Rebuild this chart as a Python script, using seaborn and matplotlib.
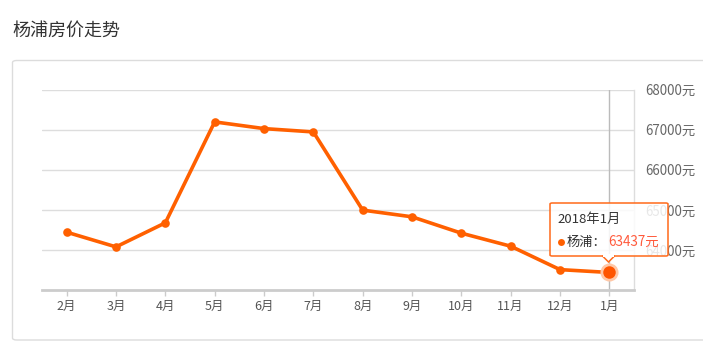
import matplotlib
matplotlib.use("Agg")
import matplotlib.pyplot as plt
import seaborn as sns
import pandas as pd
from matplotlib.patches import FancyBboxPatch, Polygon, Rectangle
from matplotlib.lines import Line2D

sns.set_theme(style="white")
plt.rcParams['font.family'] = ['Noto Sans CJK SC', 'DejaVu Sans']

# ---- data ----
months = ["2月", "3月", "4月", "5月", "6月", "7月", "8月", "9月", "10月", "11月", "12月", "1月"]
prices = [64442, 64075, 64675, 67192, 67025, 66942, 64992, 64825, 64417, 64092, 63508, 63437]
y_ticks = [64000, 65000, 66000, 67000, 68000]
title = "杨浦房价走势"
series_name = "杨浦"
tooltip_title = "2018年1月"

W, H = 703, 350
fig = plt.figure(figsize=(W / 100, H / 100), dpi=100)

def fx(px):
    return px / W

def fy(py):
    return 1 - py / H

# panel border
panel = FancyBboxPatch((fx(12.5), fy(340)), fx(720) - fx(12.5), fy(60.5) - fy(340),
                       boxstyle="round,pad=0,rounding_size=0.006", transform=fig.transFigure,
                       facecolor="white", edgecolor="#dcdcdc", linewidth=1, zorder=-5)
fig.patches.append(panel)

fig.text(fx(12), fy(31), title, fontsize=13, color="#333333", va="center", ha="left")

ax = fig.add_axes([fx(42), fy(290), fx(634) - fx(42), fy(89.5) - fy(290)])
ax.set_facecolor("none")

df = pd.DataFrame({"month": months, "price": prices})
x_pos = list(range(len(months)))
df["x"] = x_pos

ax.set_xlim(-0.5, len(months) - 0.5)
ax.set_ylim(63000, 68000)

# grid
for t in y_ticks:
    ax.axhline(t, color="#dddddd", linewidth=1, zorder=1)

# crosshair
ax.axvline(x_pos[-1], color="#bbbbbb", linewidth=1, zorder=2)

sns.lineplot(data=df, x="x", y="price", ax=ax, color="#ff6000", linewidth=2.6,
             marker="o", markersize=6.2, markeredgewidth=0, zorder=4)

# highlighted last point
ax.plot([x_pos[-1]], [prices[-1]], marker="o", markersize=13, color="#ffc7a6",
        markeredgewidth=0, zorder=5)
ax.plot([x_pos[-1]], [prices[-1]], marker="o", markersize=9, color="#ff5500",
        markeredgewidth=0, zorder=6)

ax.set_xticks(x_pos)
ax.set_xticklabels(months)
ax.set_yticks(y_ticks + [63000])
ax.set_yticklabels([f"{t}元" for t in y_ticks] + [""])
ax.yaxis.tick_right()
ax.tick_params(axis="y", length=0, pad=8, labelsize=9.6, labelcolor="#666666")
ax.tick_params(axis="x", length=4, width=1, color="#cccccc", pad=3, labelsize=9,
               labelcolor="#555555", direction="out", bottom=True)
ax.set_xlabel("")
ax.set_ylabel("")

for s in ["top", "left"]:
    ax.spines[s].set_visible(False)
ax.spines["right"].set_color("#dddddd")
ax.spines["right"].set_linewidth(1)
ax.spines["bottom"].set_color("#cccccc")
ax.spines["bottom"].set_linewidth(2)

# tooltip
tx0, ty0, tx1, ty1 = 550, 203, 668, 256
box = FancyBboxPatch((fx(tx0), fy(ty1)), fx(tx1) - fx(tx0), fy(ty0) - fy(ty1),
                     boxstyle="round,pad=0,rounding_size=0.003", transform=fig.transFigure,
                     facecolor=(1, 1, 1, 0.85), edgecolor="#ff6a1a", linewidth=1.1, zorder=10)
fig.patches.append(box)
px = 608.5
tri = Polygon([(fx(px - 6), fy(ty1)), (fx(px + 6), fy(ty1)), (fx(px), fy(ty1 + 6))],
              closed=True, transform=fig.transFigure, facecolor="white",
              edgecolor="#ff6a1a", linewidth=1.1, zorder=10)
fig.patches.append(tri)
cover = Rectangle((fx(px - 5.2), fy(ty1 + 0.6)), fx(10.4), fy(ty1 - 1.5) - fy(ty1 + 0.6),
                  transform=fig.transFigure, facecolor="white", edgecolor="none", zorder=11)
fig.patches.append(cover)

fig.text(fx(557), fy(219), tooltip_title, fontsize=9.5, color="#333333",
         va="center", ha="left", zorder=12)
dot = Line2D([fx(560.5)], [fy(242)], marker="o", markersize=5, color="#ff6000",
             markeredgewidth=0, linestyle="none", transform=fig.transFigure, zorder=12)
fig.lines.append(dot)
fig.text(fx(567), fy(242), f"{series_name}：", fontsize=9.5, color="#333333",
         va="center", ha="left", zorder=12)
fig.text(fx(608), fy(242), f"{prices[-1]}元", fontsize=9.7, color="#ff5a3c",
         va="center", ha="left", zorder=12)

fig.savefig("out.png", dpi=100)
